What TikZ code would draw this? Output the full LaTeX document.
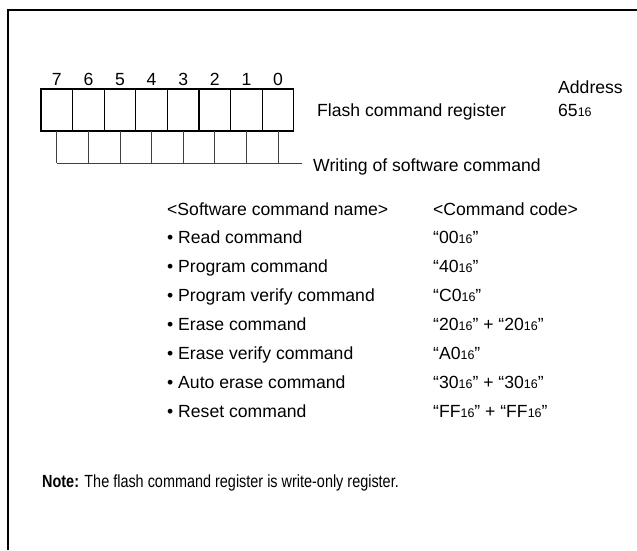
\documentclass[tikz,border=0pt]{standalone}
\usepackage{xcolor}
\usepackage{fontspec}
\setmainfont{Liberation Sans}
\newfontfamily\narrowfont[FakeStretch=0.82]{Liberation Sans}
\usepackage{tikz}
\newcommand{\sixteen}{{\fontsize{12.5}{14}\selectfont 16}}

\begin{document}
\begin{tikzpicture}[x=1pt,y=-1pt,
    every node/.style={font=\fontsize{17.6}{21}\selectfont,inner sep=0pt},
    txt/.style={anchor=base west}]
            \useasboundingbox (0,0) rectangle (637,550);
            %绘制外框
            \draw[line width=2.2pt] (8,550) -- (8,10) -- (637,10);
            %绘制寄存器上方的位号7,6,...,0
            \foreach \b [count=\i from 0] in {7,6,...,0}{\node[anchor=base] (bit\b) at (56.8+31.6*\i,85) {\b};}
            %绘制寄存器矩形
            \foreach \i in {0,1,...,7}{\draw[line width=1.1pt] (41+31.6*\i,89) rectangle (72.6+31.6*\i,131);}
            %绘制下方的引线
            \foreach \i in {0,1,...,7}{\draw[black!75,line width=1pt] (56.8+31.6*\i,131) -- (56.8+31.6*\i,163);}
            \coordinate (wend) at (302,163);
            \draw[black!75,line width=1pt] (56.8,163) -- (wend);
            %绘制寄存器名称与地址
            \node[txt] (reg) at (317,116) {Flash command register};
            \node[txt] (addr) at (558,93) {Address};
            \node[txt] (addrval) at (558,116) {65\sixteen};
            \node[txt] (write) at (313,171) {Writing of software command};
            %绘制命令表
            \node[txt] (namehead) at (167,215) {<Software command name>};
            \node[txt] (codehead) at (433,215) {<Command code>};
            \foreach \cmd/\code [count=\k] in {Read/“00\sixteen”,
                Program/“40\sixteen”,
                Program verify/“C0\sixteen”,
                Erase/“20\sixteen” + “20\sixteen”,
                Erase verify/“A0\sixteen”,
                Auto erase/“30\sixteen” + “30\sixteen”,
                Reset/“FF\sixteen” + “FF\sixteen”}{
                \node[txt] (cmd\k) at (167,215+28.9*\k) {• \cmd{} command};
                \node[txt] (code\k) at (433,215+28.9*\k) {\code};
            }
            %绘制注释
            \node[txt,font=\narrowfont\fontsize{17.6}{21}\selectfont] (note) at (42,487) {\textbf{Note:} The flash command register is write-only register.};
        \end{tikzpicture}
\end{document}
